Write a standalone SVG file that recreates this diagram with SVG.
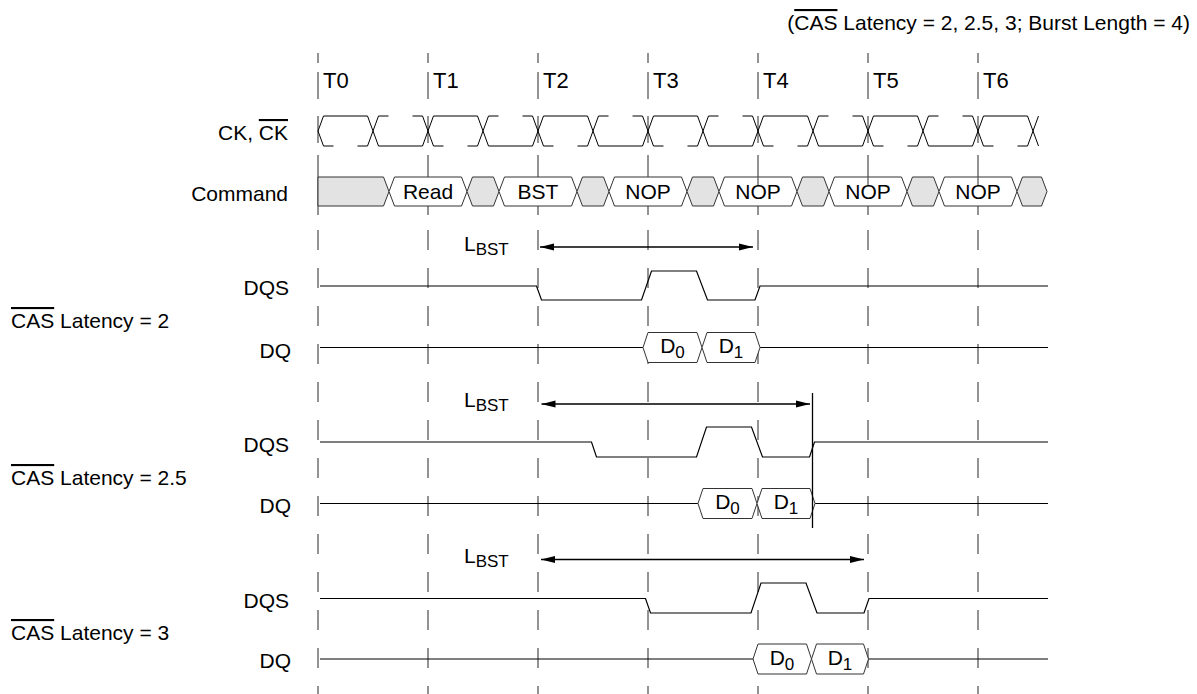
<svg xmlns="http://www.w3.org/2000/svg" width="1197" height="694" viewBox="0 0 1197 694">
<style>
.t{font-family:"Liberation Sans",Arial,Helvetica,sans-serif;font-size:21px;fill:#000}
.tl{font-family:"Liberation Sans",Arial,Helvetica,sans-serif;font-size:22px;fill:#000}
.ov{text-decoration:overline}
.grid{stroke:#666;stroke-width:1.4;fill:none}
.sig{stroke:#000;stroke-width:1.2;fill:none}
.clk{stroke:#000;stroke-width:1;fill:none}
.grey{fill:#e3e3e3;stroke:#333;stroke-width:1}
.box{fill:#fff;stroke:#333;stroke-width:1}
.arr{stroke:#000;stroke-width:1.3;fill:none}
.vl{stroke:#000;stroke-width:1.3}
</style>
<defs>
<path id="gl" class="grid" d="M0,53V63 M0,72V99 M0,116V143 M0,155V215 M0,230V250 M0,268V288 M0,306V326 M0,344V364 M0,382V402 M0,420V440 M0,458V478 M0,496V516 M0,534V554 M0,572V592 M0,610V630 M0,648V668 M0,686V694"/>
<marker id="ah" viewBox="0 0 14 8" refX="14" refY="4" markerWidth="14" markerHeight="8" markerUnits="userSpaceOnUse" orient="auto-start-reverse">
<path d="M0,0.5 L14,4 L0,7.5 Z" fill="#000"/>
</marker>
</defs>
<rect width="1197" height="694" fill="#fff"/>

<g id="labels">
<text class="t" x="1190" y="30" text-anchor="end">(<tspan class="ov">CAS</tspan> Latency = 2, 2.5, 3; Burst Length = 4)</text>
<text class="tl" x="323" y="88">T0</text>
<text class="tl" x="433" y="88">T1</text>
<text class="tl" x="543" y="88">T2</text>
<text class="tl" x="653" y="88">T3</text>
<text class="tl" x="763" y="88">T4</text>
<text class="tl" x="873" y="88">T5</text>
<text class="tl" x="983" y="88">T6</text>
<text class="t" x="288" y="140" text-anchor="end">CK, <tspan class="ov">CK</tspan></text>
<text class="t" x="288" y="201" text-anchor="end">Command</text>
<text class="t" x="289" y="295" text-anchor="end">DQS</text>
<text class="t" x="11" y="328"><tspan class="ov">CAS</tspan> Latency = 2</text>
<text class="t" x="291" y="358" text-anchor="end">DQ</text>
<text class="t" x="289" y="452" text-anchor="end">DQS</text>
<text class="t" x="11" y="485"><tspan class="ov">CAS</tspan> Latency = 2.5</text>
<text class="t" x="291" y="513" text-anchor="end">DQ</text>
<text class="t" x="289" y="608" text-anchor="end">DQS</text>
<text class="t" x="11" y="640"><tspan class="ov">CAS</tspan> Latency = 3</text>
<text class="t" x="291" y="668" text-anchor="end">DQ</text>
</g>

<g id="grid">
<use href="#gl" x="318"/>
<use href="#gl" x="428"/>
<use href="#gl" x="538"/>
<use href="#gl" x="648"/>
<use href="#gl" x="758"/>
<use href="#gl" x="868"/>
<use href="#gl" x="978"/>
</g>

<g id="clock">
<path class="clk" d="M318,131 L323.5,116 H367.5 L378.5,146 H422.5 L433.5,116 H477.5 L488.5,146 H532.5 L543.5,116 H587.5 L598.5,146 H642.5 L653.5,116 H697.5 L708.5,146 H752.5 L763.5,116 H807.5 L818.5,146 H862.5 L873.5,116 H917.5 L928.5,146 H972.5 L983.5,116 H1027.5 L1038.5,146"/>
<path class="clk" d="M318,131 L323.5,146 H333.5 M357.5,146 H367.5 L378.5,116 H388.5 M412.5,116 H422.5 L433.5,146 H443.5 M467.5,146 H477.5 L488.5,116 H498.5 M522.5,116 H532.5 L543.5,146 H553.5 M577.5,146 H587.5 L598.5,116 H608.5 M632.5,116 H642.5 L653.5,146 H663.5 M687.5,146 H697.5 L708.5,116 H718.5 M742.5,116 H752.5 L763.5,146 H773.5 M797.5,146 H807.5 L818.5,116 H828.5 M852.5,116 H862.5 L873.5,146 H883.5 M907.5,146 H917.5 L928.5,116 H938.5 M962.5,116 H972.5 L983.5,146 H993.5 M1017.5,146 H1027.5 L1038.5,116"/>
</g>

<g id="command">
<g id="cmd-g1"><path class="grey" d="M318,177 H383.5 L389,191.5 L383.5,206 H318 Z"/></g>
<g id="cmd-read"><path class="box" d="M389,191.5 L394.5,177 H461.5 L467,191.5 L461.5,206 H394.5 Z"/><text class="t" x="428" y="199" text-anchor="middle">Read</text></g>
<g id="cmd-g2"><path class="grey" d="M467,191.5 L472.5,177 H493.5 L499,191.5 L493.5,206 H472.5 Z"/></g>
<g id="cmd-bst"><path class="box" d="M499,191.5 L504.5,177 H571.5 L577,191.5 L571.5,206 H504.5 Z"/><text class="t" x="538" y="199" text-anchor="middle">BST</text></g>
<g id="cmd-g3"><path class="grey" d="M577,191.5 L582.5,177 H603.5 L609,191.5 L603.5,206 H582.5 Z"/></g>
<g id="cmd-nop1"><path class="box" d="M609,191.5 L614.5,177 H681.5 L687,191.5 L681.5,206 H614.5 Z"/><text class="t" x="648" y="199" text-anchor="middle">NOP</text></g>
<g id="cmd-g4"><path class="grey" d="M687,191.5 L692.5,177 H713.5 L719,191.5 L713.5,206 H692.5 Z"/></g>
<g id="cmd-nop2"><path class="box" d="M719,191.5 L724.5,177 H791.5 L797,191.5 L791.5,206 H724.5 Z"/><path class="grid" d="M758,177V186"/><text class="t" x="758" y="199" text-anchor="middle">NOP</text></g>
<g id="cmd-g5"><path class="grey" d="M797,191.5 L802.5,177 H823.5 L829,191.5 L823.5,206 H802.5 Z"/></g>
<g id="cmd-nop3"><path class="box" d="M829,191.5 L834.5,177 H901.5 L907,191.5 L901.5,206 H834.5 Z"/><path class="grid" d="M868,177V186"/><text class="t" x="868" y="199" text-anchor="middle">NOP</text></g>
<g id="cmd-g6"><path class="grey" d="M907,191.5 L912.5,177 H933.5 L939,191.5 L933.5,206 H912.5 Z"/></g>
<g id="cmd-nop4"><path class="box" d="M939,191.5 L944.5,177 H1011.5 L1017,191.5 L1011.5,206 H944.5 Z"/><path class="grid" d="M978,177V186"/><text class="t" x="978" y="199" text-anchor="middle">NOP</text></g>
<g id="cmd-g7"><path class="grey" d="M1017,191.5 L1022.5,177 H1041.5 L1047,191.5 L1041.5,206 H1022.5 Z"/></g>
</g>

<g id="cl2">
<g id="cl2-dqs"><path class="sig" d="M320,286 H536.5 L541.5,300 H641.5 L651.5,271 H696.5 L707.5,300 H755 L760,286 H1048"/></g>
<g id="cl2-dq">
<path class="sig" d="M320,347.5 H643 M760,347.5 H1048"/>
<path class="box" d="M643,347.5 L648,332.5 H697 L702,347.5 L697,362.5 H648 Z"/>
<path class="box" d="M702,347.5 L707,332.5 H755 L760,347.5 L755,362.5 H707 Z"/>
<text class="t" x="672.5" y="353" text-anchor="middle">D<tspan font-size="17" dy="5">0</tspan></text>
<text class="t" x="731" y="353" text-anchor="middle">D<tspan font-size="17" dy="5">1</tspan></text>
</g>
<g id="cl2-lbst"><text class="t" x="464" y="251">L<tspan font-size="17" dy="4">BST</tspan></text></g>
</g>

<g id="cl25">
<g id="cl25-dqs"><path class="sig" d="M320,442 H591.5 L596.5,457 H696.5 L706.5,427 H751.5 L762.5,457 H809.5 L814.5,442 H1048"/></g>
<g id="cl25-dq">
<path class="sig" d="M320,503.5 H698 M815,503.5 H1048"/>
<path class="box" d="M698,503.5 L703,488.5 H752 L757,503.5 L752,518.5 H703 Z"/>
<path class="box" d="M757,503.5 L762,488.5 H810 L815,503.5 L810,518.5 H762 Z"/>
<text class="t" x="727.5" y="509" text-anchor="middle">D<tspan font-size="17" dy="5">0</tspan></text>
<text class="t" x="786" y="509" text-anchor="middle">D<tspan font-size="17" dy="5">1</tspan></text>
</g>
<g id="cl25-lbst"><text class="t" x="464" y="407">L<tspan font-size="17" dy="4">BST</tspan></text></g>
</g>

<g id="cl3">
<g id="cl3-dqs"><path class="sig" d="M320,598.5 H645.5 L650.5,613 H751 L761,583 H806 L817,613 H864 L869,598.5 H1048"/></g>
<g id="cl3-dq">
<path class="sig" d="M320,659 H753 M868.5,659 H1048"/>
<path class="box" d="M753,659 L758,644 H806.5 L811.5,659 L806.5,674 H758 Z"/>
<path class="box" d="M811.5,659 L816.5,644 H863.5 L868.5,659 L863.5,674 H816.5 Z"/>
<text class="t" x="782" y="664.5" text-anchor="middle">D<tspan font-size="17" dy="5">0</tspan></text>
<text class="t" x="840" y="664.5" text-anchor="middle">D<tspan font-size="17" dy="5">1</tspan></text>
</g>
<g id="cl3-lbst"><text class="t" x="464" y="563">L<tspan font-size="17" dy="4">BST</tspan></text></g>
</g>

<g id="connectors">
<line class="arr" x1="540" y1="247" x2="753" y2="247" marker-start="url(#ah)" marker-end="url(#ah)"/>
<line class="arr" x1="541.5" y1="404" x2="810" y2="404" marker-start="url(#ah)" marker-end="url(#ah)"/>
<line class="arr" x1="541" y1="559.5" x2="864" y2="559.5" marker-start="url(#ah)" marker-end="url(#ah)"/>
<line class="vl" x1="812.5" y1="393" x2="812.5" y2="528"/>
</g>
</svg>
